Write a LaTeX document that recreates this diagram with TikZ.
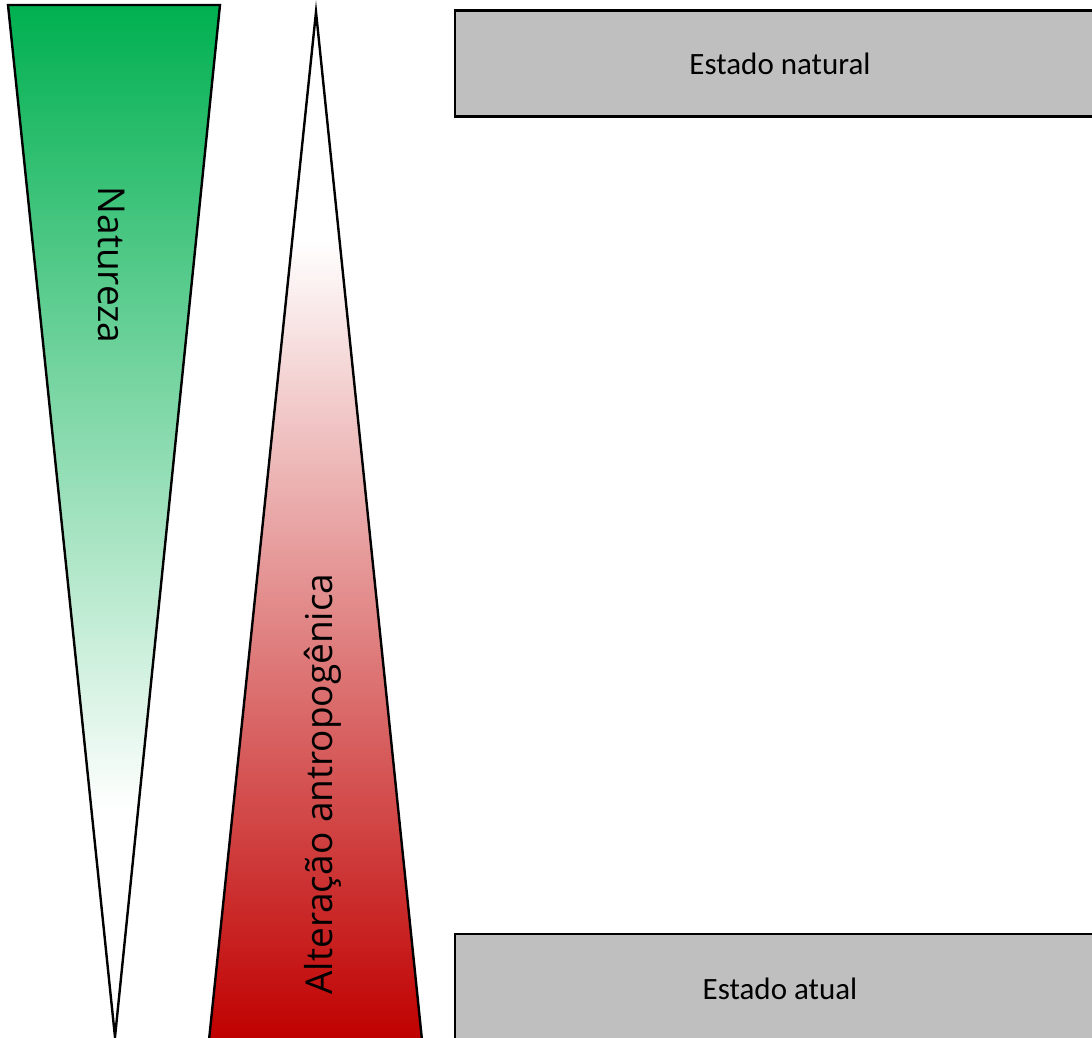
\documentclass[tikz,border=0pt]{standalone}
\usepackage{fontspec}
\setmainfont{Carlito}
\newfontfamily\wedgefont{Open Sans}
\definecolor{natgreen}{HTML}{00B050}
\definecolor{antred}{HTML}{C00000}
\definecolor{boxgray}{HTML}{BFBFBF}
\tikzset{
  wedge/.style={draw=black, line width=2.4pt, line join=miter},
  statebox/.style={draw=black, line width=2.4pt, fill=boxgray, inner sep=0pt,
    minimum width=650pt, minimum height=106pt, font=\fontsize{31}{36}\selectfont},
  wedgelabel/.style={inner sep=0pt, anchor=base, font=\wedgefont\fontsize{37}{43}\selectfont}
}

\begin{document}
\begin{tikzpicture}[x=1pt, y=-1pt]
\useasboundingbox (0,0) rectangle (1092,1037);
\begin{scope}
  \clip (8,5) -- (220,5) -- (115,1037) -- cycle;
  \shade[top color=natgreen, bottom color=white] (0,5) rectangle (230,812);
\end{scope}
\draw[wedge] (8,5) -- (220,5) -- (115,1037) -- cycle;
\begin{scope}
  \clip (316,12) -- (422,1040) -- (209,1040) -- cycle;
  \shade[top color=white, bottom color=antred] (200,240) rectangle (430,1040);
\end{scope}
\draw[wedge] (316,12) -- (422,1040) -- (209,1040) -- cycle;
\node[wedgelabel, rotate=-90] (natureza) at (98,265) {Natureza};
\node[wedgelabel, rotate=90] (alteracao) at (332,784) {Alteração antropogênica};
\node[statebox] (natural) at (780,63.5) {Estado natural};
\node[statebox, minimum height=110pt] (atual) at (780,989) {Estado atual};
\end{tikzpicture}
\end{document}
